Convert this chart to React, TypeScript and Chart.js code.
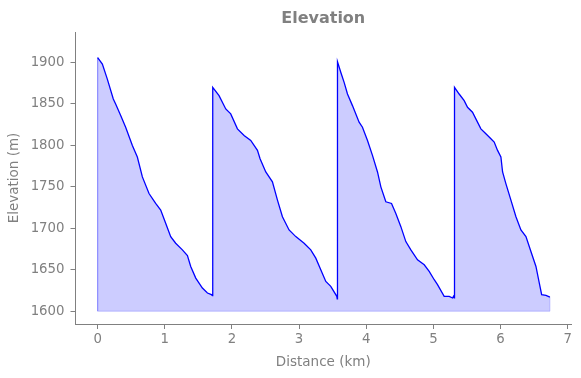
import { useEffect, useRef } from "react";
import { Chart, registerables } from "chart.js";

Chart.register(...registerables);

const distanceKm = [
  0.0, 0.07, 0.144, 0.233, 0.268, 0.343, 0.417, 0.517, 0.591, 0.666, 0.765, 0.864, 0.939, 1.013, 1.088, 1.162, 1.262, 1.337, 1.386, 1.461, 1.56, 1.635, 1.694, 1.71,
  1.714, 1.808, 1.908, 1.982, 2.082, 2.181, 2.28, 2.38, 2.419, 2.504, 2.603, 2.678, 2.752, 2.851, 2.951, 3.075, 3.174, 3.249, 3.323, 3.398, 3.472, 3.562, 3.568,
  3.572, 3.622, 3.671, 3.721, 3.795, 3.894, 3.944, 4.019, 4.093, 4.168, 4.218, 4.292, 4.377, 4.441, 4.516, 4.59, 4.665, 4.764, 4.864, 4.938, 5.013, 5.062, 5.161, 5.236, 5.286, 5.3, 5.31,
  5.315, 5.384, 5.459, 5.509, 5.583, 5.633, 5.708, 5.782, 5.857, 5.906, 5.956, 6.006, 6.031, 6.08, 6.155, 6.23, 6.304, 6.379, 6.453, 6.528, 6.578, 6.613, 6.677, 6.736,
];

const elevationM = [
  1906, 1898, 1880, 1856, 1850, 1836, 1822, 1800, 1786, 1762, 1742, 1730, 1722, 1706, 1690, 1682, 1674, 1667, 1654, 1640, 1628, 1622, 1620, 1619,
  1870, 1860, 1844, 1838, 1820, 1812, 1806, 1794, 1784, 1768, 1756, 1734, 1714, 1698, 1690, 1682, 1674, 1664, 1650, 1636, 1630, 1618, 1615,
  1901, 1888, 1876, 1862, 1848, 1828, 1822, 1806, 1788, 1768, 1750, 1732, 1730, 1718, 1702, 1684, 1674, 1662, 1656, 1648, 1638, 1632, 1618, 1618, 1616, 1618, 1616,
  1870, 1862, 1854, 1846, 1840, 1832, 1820, 1814, 1808, 1804, 1794, 1786, 1768, 1754, 1734, 1714, 1698, 1690, 1672, 1654, 1634, 1620, 1619, 1617,
];

const xTicks = [0, 1, 2, 3, 4, 5, 6, 7];
const yTicks = [1600, 1650, 1700, 1750, 1800, 1850, 1900];
const fillBase = 1600;

const centerTitleOnPlot = {
  id: "centerTitleOnPlot",
  afterLayout(chart: any) {
    const t = chart.titleBlock;
    if (t) {
      t.left = chart.chartArea.left;
      t.right = chart.chartArea.right;
    }
  },
};

export default function App() {
  const ref = useRef<HTMLCanvasElement>(null);

  useEffect(() => {
    const gray = "#808080";
    const family = "'DejaVu Sans', sans-serif";
    const pts = distanceKm.map((x, i) => ({ x, y: elevationM[i] }));
    const lastX = distanceKm[distanceKm.length - 1];
    const lastY = elevationM[elevationM.length - 1];

    const chart = new Chart(ref.current!, {
      type: "line",
      data: {
        datasets: [
          {
            data: pts,
            borderColor: "#0000ff",
            borderWidth: 1.3,
            pointRadius: 0,
            tension: 0,
            fill: { value: fillBase },
            backgroundColor: "rgba(0,0,255,0.2)",
          },
          {
            data: [
              { x: 0, y: elevationM[0] },
              { x: 0, y: fillBase },
              { x: lastX, y: fillBase },
              { x: lastX, y: lastY },
            ],
            borderColor: "rgba(0,0,255,0.2)",
            borderWidth: 1,
            pointRadius: 0,
            tension: 0,
            fill: false,
          },
        ],
      },
      plugins: [centerTitleOnPlot],
      options: {
        animation: false,
        responsive: false,
        events: [],
        layout: { padding: { left: 0, right: 10, top: 0, bottom: 0 } },
        plugins: {
          legend: { display: false },
          tooltip: { enabled: false },
          title: {
            display: true,
            text: "Elevation",
            color: gray,
            font: { family, size: 16, weight: "bold" },
            padding: { top: 9, bottom: 3.8 },
          },
        },
        scales: {
          x: {
            type: "linear",
            min: -0.33,
            max: 7.05,
            afterBuildTicks: (s: any) => {
              s.ticks = xTicks.map((v) => ({ value: v }));
            },
            afterFit: (s: any) => {
              s.height = 54;
            },
            ticks: {
              color: gray,
              font: { family, size: 13.3 },
              padding: 3,
              maxRotation: 0,
              autoSkip: false,
              callback: (v: any) => String(v),
            },
            grid: {
              display: true,
              drawOnChartArea: false,
              drawTicks: true,
              tickLength: 5,
              color: gray,
            },
            border: { display: true, color: gray, width: 1 },
            title: {
              display: true,
              text: "Distance (km)",
              color: gray,
              font: { family, size: 13.5 },
              padding: { top: 0, bottom: 7.9 },
            },
          },
          y: {
            type: "linear",
            min: 1584.6,
            max: 1936.8,
            afterBuildTicks: (s: any) => {
              s.ticks = yTicks.map((v) => ({ value: v }));
            },
            afterFit: (s: any) => {
              s.width = 75.5;
            },
            ticks: {
              color: gray,
              font: { family, size: 13.3 },
              padding: 6,
              autoSkip: false,
              callback: (v: any) => String(v),
            },
            grid: {
              display: true,
              drawOnChartArea: false,
              drawTicks: true,
              tickLength: 5,
              color: gray,
            },
            border: { display: true, color: gray, width: 1 },
            title: {
              display: true,
              text: "Elevation (m)",
              color: gray,
              font: { family, size: 13.5 },
              padding: { top: 6.5, bottom: 0 },
            },
          },
        },
      },
    } as any);

    return () => chart.destroy();
  }, []);

  return (
    <div style={{ position: "absolute", left: 0, top: 0, width: 581, height: 378 }}>
      <canvas ref={ref} width={581} height={378} style={{ display: "block" }} />
    </div>
  );
}
